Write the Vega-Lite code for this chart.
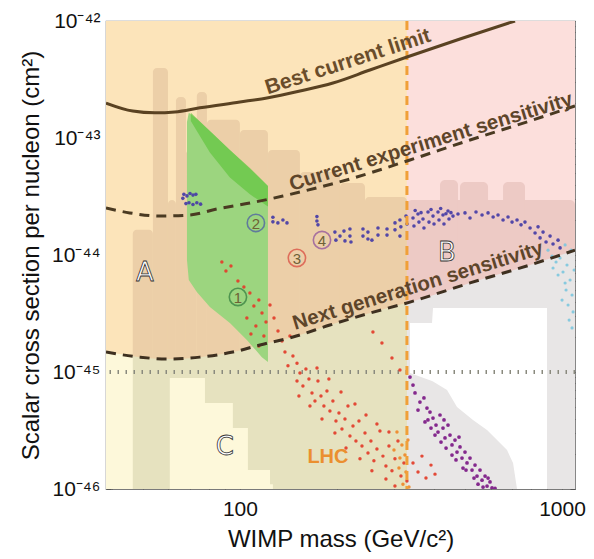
{
  "$schema": "https://vega.github.io/schema/vega-lite/v6.json",
  "width": 469,
  "height": 468,
  "autosize": {"type": "none"},
  "padding": {"left": 106, "top": 21, "right": 19, "bottom": 70},
  "config": {
    "view": {"stroke": "#7a7a7a", "strokeWidth": 1.2},
    "axis": {"domain": false, "grid": false, "tickColor": "#555555", "tickSize": -5, "labelFont": "Liberation Sans", "titleFont": "Liberation Sans", "labelFontSize": 21, "titleFontSize": 24, "labelColor": "#111111", "titleColor": "#111111", "titleFontWeight": "normal", "labelOverlap": false, "labelFlush": false}
  },
  "resolve": {"axis": {"x": "independent", "y": "independent"}},
  "layer": [
  {
  "layer": [
    {
      "data": {"values": [{"x": 38.4, "x2": 330, "y": 1e-46, "y2": 1e-42}]},
      "mark": {"type": "rect", "color": "#FCE4BA"},
      "encoding": {
        "x": {"field": "x", "type": "quantitative", "scale": {"type": "log", "domain": [38.4, 1097], "nice": false},
          "axis": {"title": "WIMP mass (GeV/c²)", "values": [40, 50, 60, 70, 80, 90, 100, 200, 300, 400, 500, 600, 700, 800, 900, 1000], "labelExpr": "datum.value == 100 ? '100' : datum.value == 1000 ? '1000' : ''", "labelPadding": 14, "titlePadding": 8}},
        "x2": {"field": "x2"},
        "y": {"field": "y", "type": "quantitative", "scale": {"type": "log", "domain": [1e-46, 1e-42], "nice": false},
          "axis": {"title": "Scalar cross section per nucleon (cm²)", "values": [1e-46, 2e-46, 3e-46, 4e-46, 5e-46, 6e-46, 7e-46, 8e-46, 9e-46, 1e-45, 2e-45, 3e-45, 4e-45, 5e-45, 6e-45, 7e-45, 8e-45, 9e-45, 1e-44, 2e-44, 3e-44, 4e-44, 5e-44, 6e-44, 7e-44, 8e-44, 9e-44, 1e-43, 2e-43, 3e-43, 4e-43, 5e-43, 6e-43, 7e-43, 8e-43, 9e-43, 1e-42],
            "labelExpr": "abs(log(datum.value)/LN10 - round(log(datum.value)/LN10)) > 0.01 ? '' : round(log(datum.value)/LN10) == -42 ? '10⁻⁴²' : round(log(datum.value)/LN10) == -43 ? '10⁻⁴³' : round(log(datum.value)/LN10) == -44 ? '10⁻⁴⁴' : round(log(datum.value)/LN10) == -45 ? '10⁻⁴⁵' : '10⁻⁴⁶'", "labelPadding": 11, "titlePadding": 8}},
        "y2": {"field": "y2"}
      }
    },
    {
      "data": {"values": [{"x": 330, "x2": 1097, "y": 1e-46, "y2": 1e-42}]},
      "mark": {"type": "rect", "color": "#FCDFDC"},
      "encoding": {
        "x": {"field": "x", "type": "quantitative", "scale": {"type": "log", "domain": [38.4, 1097], "nice": false}},
        "x2": {"field": "x2"},
        "y": {"field": "y", "type": "quantitative", "scale": {"type": "log", "domain": [1e-46, 1e-42], "nice": false}},
        "y2": {"field": "y2"}
      }
    },
    {
      "data": {"values": [
        {"x": 46.5, "x2": 53.7, "y": 1.64e-44, "y2": 1e-46},
        {"x": 53.7, "x2": 59.8, "y": 3.97e-43, "y2": 1e-46},
        {"x": 59.8, "x2": 63.3, "y": 2.95e-44, "y2": 1e-46},
        {"x": 63.3, "x2": 68.0, "y": 2.24e-43, "y2": 1e-46},
        {"x": 68.0, "x2": 73.5, "y": 7.89e-44, "y2": 1e-46},
        {"x": 73.5, "x2": 79.0, "y": 2.47e-43, "y2": 1e-46},
        {"x": 79.0, "x2": 100, "y": 1.43e-43, "y2": 1e-46},
        {"x": 100, "x2": 122.2, "y": 1.17e-43, "y2": 1e-46},
        {"x": 122.2, "x2": 153.6, "y": 7.89e-44, "y2": 1e-46},
        {"x": 153.6, "x2": 204.5, "y": 5.12e-44, "y2": 1e-46},
        {"x": 204.5, "x2": 244.5, "y": 4.13e-44, "y2": 1e-46},
        {"x": 244.5, "x2": 330, "y": 3.13e-44, "y2": 1e-46}
      ]},
      "mark": {"type": "rect", "color": "#ECCFA8", "cornerRadiusTopLeft": 4, "cornerRadiusTopRight": 4},
      "encoding": {
        "x": {"field": "x", "type": "quantitative", "scale": {"type": "log", "domain": [38.4, 1097], "nice": false}},
        "x2": {"field": "x2"},
        "y": {"field": "y", "type": "quantitative", "scale": {"type": "log", "domain": [1e-46, 1e-42], "nice": false}},
        "y2": {"field": "y2"}
      }
    },
    {
      "data": {"values": [
        {"x": 330, "x2": 1097, "y": 2.95e-44, "y2": 1e-46},
        {"x": 418, "x2": 475.3, "y": 4.38e-44, "y2": 1e-46},
        {"x": 482.2, "x2": 589.2, "y": 4.21e-44, "y2": 1e-46},
        {"x": 655.9, "x2": 767.2, "y": 4.21e-44, "y2": 1e-46}
      ]},
      "mark": {"type": "rect", "color": "#EDCAC5", "cornerRadiusTopLeft": 5, "cornerRadiusTopRight": 5},
      "encoding": {
        "x": {"field": "x", "type": "quantitative", "scale": {"type": "log", "domain": [38.4, 1097], "nice": false}},
        "x2": {"field": "x2"},
        "y": {"field": "y", "type": "quantitative", "scale": {"type": "log", "domain": [1e-46, 1e-42], "nice": false}},
        "y2": {"field": "y2"}
      }
    },
    {
      "data": {"values": [
        {"x": 38.4, "y": 1.48e-45, "y2": 1e-46}, {"x": 48.9, "y": 1.34e-45, "y2": 1e-46}, {"x": 59.3, "y": 1.29e-45, "y2": 1e-46},
        {"x": 75.1, "y": 1.34e-45, "y2": 1e-46}, {"x": 95.1, "y": 1.48e-45, "y2": 1e-46}, {"x": 115.4, "y": 1.7e-45, "y2": 1e-46},
        {"x": 146.1, "y": 1.99e-45, "y2": 1e-46}, {"x": 190.3, "y": 2.52e-45, "y2": 1e-46}, {"x": 253.3, "y": 3.19e-45, "y2": 1e-46},
        {"x": 330, "y": 3.9e-45, "y2": 1e-46}
      ]},
      "mark": {"type": "area", "color": "#E6E2BF", "interpolate": "monotone"},
      "encoding": {
        "x": {"field": "x", "type": "quantitative", "scale": {"type": "log", "domain": [38.4, 1097], "nice": false}},
        "y": {"field": "y", "type": "quantitative", "scale": {"type": "log", "domain": [1e-46, 1e-42], "nice": false}},
        "y2": {"field": "y2"}
      }
    },
    {
      "data": {"values": [
        {"x": 330, "y": 3.9e-45, "y2": 1e-46}, {"x": 337.3, "y": 3.96e-45, "y2": 1e-46}, {"x": 518, "y": 5.77e-45, "y2": 1e-46},
        {"x": 795.6, "y": 8.22e-45, "y2": 1e-46}, {"x": 1097, "y": 1.1e-44, "y2": 1e-46}
      ]},
      "mark": {"type": "area", "color": "#E8E6E6", "interpolate": "monotone"},
      "encoding": {
        "x": {"field": "x", "type": "quantitative", "scale": {"type": "log", "domain": [38.4, 1097], "nice": false}},
        "y": {"field": "y", "type": "quantitative", "scale": {"type": "log", "domain": [1e-46, 1e-42], "nice": false}},
        "y2": {"field": "y2"}
      }
    },
    {
      "data": {"values": [{"x": 38.4, "y": 1.48e-45, "y2": 1e-46}, {"x": 46.5, "y": 1.37e-45, "y2": 1e-46}]},
      "mark": {"type": "area", "color": "#FDF8DA"},
      "encoding": {
        "x": {"field": "x", "type": "quantitative", "scale": {"type": "log", "domain": [38.4, 1097], "nice": false}},
        "y": {"field": "y", "type": "quantitative", "scale": {"type": "log", "domain": [1e-46, 1e-42], "nice": false}},
        "y2": {"field": "y2"}
      }
    },
    {
      "data": {"values": [
        {"x": 60.6, "y": 8.89e-46, "y2": 1e-46}, {"x": 77.9, "y": 5.43e-46, "y2": 1e-46}, {"x": 95.1, "y": 3.32e-46, "y2": 1e-46},
        {"x": 105.9, "y": 1.45e-46, "y2": 1e-46}, {"x": 124.0, "y": 1.1e-46, "y2": 1e-46}, {"x": 126.6, "y": 1.1e-46, "y2": 1e-46}
      ]},
      "mark": {"type": "area", "color": "#FDF8DA", "interpolate": "step-after"},
      "encoding": {
        "x": {"field": "x", "type": "quantitative", "scale": {"type": "log", "domain": [38.4, 1097], "nice": false}},
        "y": {"field": "y", "type": "quantitative", "scale": {"type": "log", "domain": [1e-46, 1e-42], "nice": false}},
        "y2": {"field": "y2"}
      }
    },
    {
      "data": {"values": [
        {"x": 337.3, "y": 2.62e-45, "y2": 9.81e-46}, {"x": 394.8, "y": 2.62e-45, "y2": 8.38e-46}, {"x": 397.6, "y": 3.52e-45, "y2": 8.3e-46},
        {"x": 439.5, "y": 3.52e-45, "y2": 7.02e-46}, {"x": 472.0, "y": 3.52e-45, "y2": 5.02e-46}, {"x": 529.1, "y": 3.52e-45, "y2": 3.89e-46},
        {"x": 584.9, "y": 3.52e-45, "y2": 3.19e-46}, {"x": 628.4, "y": 3.52e-45, "y2": 2.62e-46}, {"x": 674.9, "y": 3.52e-45, "y2": 2.15e-46},
        {"x": 704.5, "y": 3.52e-45, "y2": 1.67e-46}, {"x": 724.9, "y": 3.52e-45, "y2": 1e-46}, {"x": 898.2, "y": 3.52e-45, "y2": 1e-46}
      ]},
      "mark": {"type": "area", "color": "#FFFFFF"},
      "encoding": {
        "x": {"field": "x", "type": "quantitative", "scale": {"type": "log", "domain": [38.4, 1097], "nice": false}},
        "y": {"field": "y", "type": "quantitative", "scale": {"type": "log", "domain": [1e-46, 1e-42], "nice": false}},
        "y2": {"field": "y2"}
      }
    },
    {
      "data": {"values": [{"y": 1e-45}]},
      "mark": {"type": "rule", "color": "#8A8A7E", "strokeWidth": 4, "strokeDash": [1.5, 6.5]},
      "encoding": {
        "y": {"field": "y", "type": "quantitative", "scale": {"type": "log", "domain": [1e-46, 1e-42], "nice": false}}
      }
    },
    {
      "data": {"values": [
        {"x": 68.5, "y": 1.37e-43, "y2": 9.06e-45}, {"x": 69.4, "y": 1.64e-43, "y2": 6.11e-45}, {"x": 73.5, "y": 1.45e-43, "y2": 4.83e-45},
        {"x": 80.7, "y": 1.15e-43, "y2": 3.59e-45}, {"x": 93.1, "y": 7.89e-44, "y2": 2.62e-45}, {"x": 105.1, "y": 5.76e-44, "y2": 1.88e-45},
        {"x": 117.0, "y": 4.37e-44, "y2": 1.34e-45}, {"x": 122.2, "y": 3.89e-44, "y2": 1.22e-45}
      ]},
      "mark": {"type": "area", "color": "#9CD57F", "clip": true},
      "encoding": {
        "x": {"field": "x", "type": "quantitative", "scale": {"type": "log", "domain": [38.4, 1097], "nice": false}},
        "y": {"field": "y", "type": "quantitative", "scale": {"type": "log", "domain": [1e-46, 1e-42], "nice": false}},
        "y2": {"field": "y2"}
      }
    },
    {
      "data": {"values": [
        {"x": 70.4, "y": 1.64e-43, "y2": 1.4e-43}, {"x": 80.7, "y": 1.15e-43, "y2": 7.5e-44}, {"x": 93.1, "y": 7.89e-44, "y2": 4.6e-44},
        {"x": 107.4, "y": 5.54e-44, "y2": 3.3e-44}, {"x": 122.2, "y": 3.89e-44, "y2": 2.6e-44}
      ]},
      "mark": {"type": "area", "color": "#62C43E", "opacity": 0.7, "clip": true},
      "encoding": {
        "x": {"field": "x", "type": "quantitative", "scale": {"type": "log", "domain": [38.4, 1097], "nice": false}},
        "y": {"field": "y", "type": "quantitative", "scale": {"type": "log", "domain": [1e-46, 1e-42], "nice": false}},
        "y2": {"field": "y2"}
      }
    },
    {
      "data": {"values": [
        {"x": 87.9, "y": 8.71e-45}, {"x": 90.5, "y": 7.3e-45}, {"x": 93.8, "y": 8.05e-45}, {"x": 98.6, "y": 6.0e-45}, {"x": 102.9, "y": 5.33e-45},
        {"x": 107.4, "y": 4.73e-45}, {"x": 110.5, "y": 3.67e-45}, {"x": 114.5, "y": 4.13e-45}, {"x": 105.1, "y": 2.89e-45}, {"x": 117.1, "y": 3.19e-45},
        {"x": 112.1, "y": 2.47e-45}, {"x": 118.7, "y": 2.03e-45}, {"x": 114.5, "y": 1.67e-45}, {"x": 108.2, "y": 2.11e-45}, {"x": 120.5, "y": 2.68e-45},
        {"x": 124.0, "y": 3.74e-45}, {"x": 127.6, "y": 2.89e-45}, {"x": 131.3, "y": 2.24e-45}, {"x": 135.1, "y": 1.84e-45}, {"x": 138.0, "y": 1.48e-45},
        {"x": 143.0, "y": 2.03e-45}, {"x": 146.1, "y": 1.37e-45}, {"x": 150.4, "y": 1.19e-45}, {"x": 153.6, "y": 9.81e-46}, {"x": 156.9, "y": 7.59e-46},
        {"x": 160.3, "y": 1.06e-45}, {"x": 163.8, "y": 8.71e-46}, {"x": 167.4, "y": 6.62e-46}, {"x": 171.0, "y": 5.65e-46}, {"x": 174.7, "y": 8.38e-46},
        {"x": 178.5, "y": 6.24e-46}, {"x": 182.3, "y": 5.12e-46}, {"x": 186.3, "y": 6.88e-46}, {"x": 190.3, "y": 4.64e-46}, {"x": 194.4, "y": 5.65e-46},
        {"x": 198.7, "y": 3.81e-46}, {"x": 203.0, "y": 4.46e-46}, {"x": 207.4, "y": 3.26e-46}, {"x": 211.9, "y": 3.97e-46}, {"x": 216.5, "y": 5.12e-46},
        {"x": 219.6, "y": 2.84e-46}, {"x": 224.4, "y": 3.46e-46}, {"x": 229.2, "y": 2.57e-46}, {"x": 234.2, "y": 3.81e-46}, {"x": 239.3, "y": 2.33e-46},
        {"x": 244.5, "y": 3.01e-46}, {"x": 249.8, "y": 2.03e-46}, {"x": 255.1, "y": 2.57e-46}, {"x": 260.6, "y": 1.74e-46}, {"x": 266.3, "y": 2.2e-46},
        {"x": 272.1, "y": 3.13e-46}, {"x": 278.0, "y": 1.91e-46}, {"x": 284.0, "y": 1.57e-46}, {"x": 290.2, "y": 2.33e-46}, {"x": 296.5, "y": 1.43e-46},
        {"x": 302.9, "y": 1.81e-46}, {"x": 309.5, "y": 2.57e-46}, {"x": 316.2, "y": 1.29e-46}, {"x": 323.0, "y": 1.67e-46}, {"x": 330.0, "y": 1.17e-46},
        {"x": 284.0, "y": 1.22e-46}, {"x": 302.9, "y": 1.06e-46}, {"x": 256.9, "y": 1.43e-46}, {"x": 235.9, "y": 1.81e-46}, {"x": 213.5, "y": 2.24e-46},
        {"x": 197.2, "y": 3.01e-46}, {"x": 179.8, "y": 3.97e-46}, {"x": 165.0, "y": 5.12e-46}, {"x": 152.5, "y": 6.24e-46}, {"x": 150.4, "y": 8.38e-46},
        {"x": 141.0, "y": 1.13e-45}, {"x": 258.8, "y": 2.2e-45}, {"x": 276.0, "y": 1.77e-45}, {"x": 296.5, "y": 1.32e-45}, {"x": 313.9, "y": 1.04e-45},
        {"x": 344.6, "y": 1.67e-46}, {"x": 357.2, "y": 1.4e-46}, {"x": 367.4, "y": 1.91e-46}, {"x": 378.1, "y": 1.24e-46}, {"x": 391.9, "y": 1.6e-46},
        {"x": 403.3, "y": 1.34e-46}, {"x": 173.5, "y": 1.08e-45}, {"x": 188.9, "y": 8.71e-46}, {"x": 206.0, "y": 6.75e-46}, {"x": 227.6, "y": 5.33e-46},
        {"x": 246.3, "y": 4.29e-46}, {"x": 266.3, "y": 3.59e-46}, {"x": 290.2, "y": 3.07e-46}
      ]},
      "mark": {"type": "circle", "color": "#E3402D", "size": 12, "opacity": 0.95, "clip": true},
      "encoding": {
        "x": {"field": "x", "type": "quantitative", "scale": {"type": "log", "domain": [38.4, 1097], "nice": false}},
        "y": {"field": "y", "type": "quantitative", "scale": {"type": "log", "domain": [1e-46, 1e-42], "nice": false}}
      }
    },
    {
      "data": {"values": [
        {"x": 307.3, "y": 3.07e-46}, {"x": 318.4, "y": 2.38e-46}, {"x": 325.3, "y": 1.95e-46}, {"x": 311.7, "y": 1.51e-46}, {"x": 327.7, "y": 1.4e-46},
        {"x": 320.7, "y": 1.1e-46}, {"x": 332.4, "y": 2.62e-46}, {"x": 300.8, "y": 2.15e-46}, {"x": 334.8, "y": 1.04e-46}, {"x": 313.9, "y": 1.84e-46}
      ]},
      "mark": {"type": "circle", "color": "#EE8A2C", "size": 12, "opacity": 0.95, "clip": true},
      "encoding": {
        "x": {"field": "x", "type": "quantitative", "scale": {"type": "log", "domain": [38.4, 1097], "nice": false}},
        "y": {"field": "y", "type": "quantitative", "scale": {"type": "log", "domain": [1e-46, 1e-42], "nice": false}}
      }
    },
    {
      "data": {"values": [
        {"x": 337.3, "y": 9.06e-46}, {"x": 344.6, "y": 7.74e-46}, {"x": 349.6, "y": 6.62e-46}, {"x": 362.2, "y": 5.54e-46}, {"x": 372.7, "y": 6.0e-46},
        {"x": 380.8, "y": 4.92e-46}, {"x": 389.1, "y": 4.55e-46}, {"x": 383.5, "y": 3.89e-46}, {"x": 397.5, "y": 4.04e-46}, {"x": 406.2, "y": 3.52e-46},
        {"x": 418.0, "y": 4.29e-46}, {"x": 412.0, "y": 3.07e-46}, {"x": 427.1, "y": 3.32e-46}, {"x": 433.2, "y": 2.73e-46}, {"x": 442.6, "y": 3.52e-46},
        {"x": 448.9, "y": 2.89e-46}, {"x": 455.4, "y": 2.38e-46}, {"x": 465.2, "y": 2.62e-46}, {"x": 472.0, "y": 2.07e-46}, {"x": 482.2, "y": 2.29e-46},
        {"x": 489.1, "y": 1.84e-46}, {"x": 499.7, "y": 2.07e-46}, {"x": 507.0, "y": 1.67e-46}, {"x": 518.0, "y": 1.84e-46}, {"x": 525.5, "y": 1.45e-46},
        {"x": 536.9, "y": 1.6e-46}, {"x": 544.6, "y": 1.29e-46}, {"x": 556.4, "y": 1.45e-46}, {"x": 564.4, "y": 1.19e-46}, {"x": 576.7, "y": 1.29e-46},
        {"x": 585.0, "y": 1.06e-46}, {"x": 597.6, "y": 1.15e-46}, {"x": 606.2, "y": 1.02e-46}, {"x": 568.5, "y": 1.04e-46}, {"x": 533.0, "y": 1.24e-46},
        {"x": 503.4, "y": 1.45e-46}, {"x": 468.6, "y": 1.77e-46}, {"x": 436.4, "y": 2.24e-46}, {"x": 403.3, "y": 2.89e-46}, {"x": 375.4, "y": 3.74e-46},
        {"x": 357.2, "y": 4.73e-46}, {"x": 421.0, "y": 2.52e-46}, {"x": 455.4, "y": 1.95e-46}, {"x": 492.7, "y": 1.51e-46}, {"x": 548.5, "y": 1.1e-46},
        {"x": 589.2, "y": 1.24e-46}, {"x": 619.4, "y": 1.01e-46}, {"x": 391.9, "y": 3.32e-46}, {"x": 430.1, "y": 3.89e-46}, {"x": 478.8, "y": 2.78e-46}
      ]},
      "mark": {"type": "circle", "color": "#7E1F88", "size": 14, "opacity": 0.95, "clip": true},
      "encoding": {
        "x": {"field": "x", "type": "quantitative", "scale": {"type": "log", "domain": [38.4, 1097], "nice": false}},
        "y": {"field": "y", "type": "quantitative", "scale": {"type": "log", "domain": [1e-46, 1e-42], "nice": false}}
      }
    },
    {
      "data": {"values": [
        {"x": 904.7, "y": 1.1e-44}, {"x": 931, "y": 9.8e-45}, {"x": 958, "y": 8.71e-45}, {"x": 937.6, "y": 7.74e-45}, {"x": 986, "y": 9.43e-45},
        {"x": 1007, "y": 7.16e-45}, {"x": 1036, "y": 8.21e-45}, {"x": 1059, "y": 6.11e-45}, {"x": 1029, "y": 5.02e-45}, {"x": 1074, "y": 4.55e-45},
        {"x": 1044, "y": 3.74e-45}, {"x": 1082, "y": 3.26e-45}, {"x": 1052, "y": 2.78e-45}, {"x": 1074, "y": 2.38e-45}, {"x": 1022, "y": 5.76e-45},
        {"x": 972, "y": 6.75e-45}, {"x": 1000, "y": 4.12e-45}, {"x": 1090, "y": 7.44e-45}, {"x": 1067, "y": 1.1e-44}, {"x": 1022, "y": 1.22e-44}
      ]},
      "mark": {"type": "circle", "color": "#7CC6DE", "size": 10, "opacity": 0.9, "clip": true},
      "encoding": {
        "x": {"field": "x", "type": "quantitative", "scale": {"type": "log", "domain": [38.4, 1097], "nice": false}},
        "y": {"field": "y", "type": "quantitative", "scale": {"type": "log", "domain": [1e-46, 1e-42], "nice": false}}
      }
    },
    {
      "data": {"values": [
        {"x": 66.5, "y": 3.05e-44}, {"x": 67.0, "y": 3.3e-44}, {"x": 68.5, "y": 3.2e-44}, {"x": 70.0, "y": 3.35e-44}, {"x": 71.5, "y": 3.25e-44},
        {"x": 73.0, "y": 3.3e-44}, {"x": 68.0, "y": 2.75e-44}, {"x": 69.5, "y": 2.8e-44}, {"x": 71.5, "y": 2.7e-44}, {"x": 73.5, "y": 2.8e-44},
        {"x": 75.5, "y": 2.72e-44}, {"x": 126.6, "y": 1.92e-44}, {"x": 126.6, "y": 2.1e-44}, {"x": 131.2, "y": 1.88e-44}, {"x": 136.0, "y": 1.99e-44},
        {"x": 140.0, "y": 1.88e-44}, {"x": 173.4, "y": 2.13e-44}, {"x": 173.4, "y": 1.95e-44}, {"x": 174.7, "y": 1.81e-44},
        {"x": 197.2, "y": 1.57e-44}, {"x": 198.6, "y": 1.34e-44}, {"x": 204.5, "y": 1.45e-44}, {"x": 210.4, "y": 1.6e-44}, {"x": 211.9, "y": 1.32e-44},
        {"x": 219.6, "y": 1.67e-44}, {"x": 219.6, "y": 1.45e-44}, {"x": 221.2, "y": 1.29e-44}, {"x": 241.0, "y": 1.67e-44}, {"x": 241.0, "y": 1.45e-44},
        {"x": 249.7, "y": 1.57e-44}, {"x": 249.7, "y": 1.37e-44}, {"x": 256.9, "y": 1.34e-44}, {"x": 268.3, "y": 1.7e-44}, {"x": 268.3, "y": 1.48e-44},
        {"x": 286.2, "y": 1.67e-44}, {"x": 286.2, "y": 1.48e-44}, {"x": 303.0, "y": 1.88e-44}, {"x": 303.0, "y": 1.64e-44}, {"x": 313.9, "y": 1.99e-44},
        {"x": 316.0, "y": 1.74e-44}, {"x": 313.9, "y": 1.45e-44}, {"x": 327.8, "y": 2.15e-44}, {"x": 330.1, "y": 1.84e-44}, {"x": 344.6, "y": 2.07e-44},
        {"x": 347.0, "y": 1.77e-44}, {"x": 357.1, "y": 2.24e-44}, {"x": 359.6, "y": 1.91e-44}, {"x": 370.1, "y": 2.03e-44}, {"x": 372.7, "y": 1.7e-44},
        {"x": 383.6, "y": 2.33e-44}, {"x": 386.3, "y": 1.91e-44}, {"x": 397.6, "y": 2.15e-44}, {"x": 400.5, "y": 1.84e-44}, {"x": 412.0, "y": 2.33e-44},
        {"x": 415.0, "y": 1.99e-44}, {"x": 427.0, "y": 2.2e-44}, {"x": 430.0, "y": 1.84e-44}, {"x": 442.6, "y": 2.38e-44}, {"x": 445.8, "y": 2.03e-44},
        {"x": 458.6, "y": 2.15e-44}, {"x": 475.3, "y": 2.24e-44}, {"x": 499.7, "y": 2.29e-44}, {"x": 518.0, "y": 2.07e-44}, {"x": 540.7, "y": 2.33e-44},
        {"x": 564.5, "y": 2.2e-44}, {"x": 589.2, "y": 2.29e-44}, {"x": 611.0, "y": 2.11e-44}, {"x": 632.8, "y": 2.2e-44}, {"x": 655.9, "y": 1.99e-44},
        {"x": 679.7, "y": 2.11e-44}, {"x": 699.5, "y": 1.91e-44}, {"x": 724.9, "y": 1.99e-44}, {"x": 746.0, "y": 1.81e-44}, {"x": 767.2, "y": 1.91e-44},
        {"x": 795.6, "y": 1.7e-44}, {"x": 824.6, "y": 1.54e-44}, {"x": 842.4, "y": 1.74e-44}, {"x": 854.6, "y": 1.4e-44}, {"x": 873.0, "y": 1.57e-44},
        {"x": 891.9, "y": 1.29e-44}, {"x": 918.0, "y": 1.45e-44}, {"x": 937.6, "y": 1.24e-44}, {"x": 971.9, "y": 1.34e-44}, {"x": 986.0, "y": 1.15e-44},
        {"x": 350, "y": 2.4e-44}, {"x": 365, "y": 2.3e-44}, {"x": 392, "y": 2.45e-44}, {"x": 420, "y": 2.5e-44}, {"x": 436, "y": 2.25e-44}, {"x": 452, "y": 2.3e-44}
      ]},
      "mark": {"type": "circle", "color": "#4A3FA6", "size": 13, "opacity": 0.95, "clip": true},
      "encoding": {
        "x": {"field": "x", "type": "quantitative", "scale": {"type": "log", "domain": [38.4, 1097], "nice": false}},
        "y": {"field": "y", "type": "quantitative", "scale": {"type": "log", "domain": [1e-46, 1e-42], "nice": false}}
      }
    },
    {
      "data": {"values": [{"x": 330}]},
      "mark": {"type": "rule", "color": "#F0A038", "strokeWidth": 3, "strokeDash": [9, 6]},
      "encoding": {
        "x": {"field": "x", "type": "quantitative", "scale": {"type": "log", "domain": [38.4, 1097], "nice": false}}
      }
    },
    {
      "data": {"values": [
        {"x": 38.4, "y": 1.99e-43}, {"x": 46.5, "y": 1.7e-43}, {"x": 54.5, "y": 1.64e-43}, {"x": 62.8, "y": 1.67e-43}, {"x": 75.1, "y": 1.81e-43},
        {"x": 100, "y": 2.03e-43}, {"x": 121.3, "y": 2.2e-43}, {"x": 153.6, "y": 2.52e-43}, {"x": 194.5, "y": 2.95e-43}, {"x": 253.3, "y": 3.81e-43},
        {"x": 330.1, "y": 4.92e-43}, {"x": 482.2, "y": 7.02e-43}, {"x": 714.5, "y": 1e-42}
      ]},
      "mark": {"type": "line", "color": "#5A4222", "strokeWidth": 3, "interpolate": "monotone", "clip": true},
      "encoding": {
        "x": {"field": "x", "type": "quantitative", "scale": {"type": "log", "domain": [38.4, 1097], "nice": false}},
        "y": {"field": "y", "type": "quantitative", "scale": {"type": "log", "domain": [1e-46, 1e-42], "nice": false}}
      }
    },
    {
      "data": {"values": [
        {"x": 38.4, "y": 2.52e-44}, {"x": 45.5, "y": 2.29e-44}, {"x": 56.4, "y": 2.15e-44}, {"x": 69.9, "y": 2.2e-44}, {"x": 84.8, "y": 2.47e-44},
        {"x": 107.4, "y": 2.78e-44}, {"x": 136.0, "y": 3.19e-44}, {"x": 177.2, "y": 3.81e-44}, {"x": 219.6, "y": 4.46e-44}, {"x": 337.3, "y": 6.49e-44},
        {"x": 518, "y": 9.61e-44}, {"x": 795.6, "y": 1.4e-43}, {"x": 1097, "y": 1.88e-43}
      ]},
      "mark": {"type": "line", "color": "#4A3A22", "strokeWidth": 3, "strokeDash": [10, 7], "interpolate": "monotone", "clip": true},
      "encoding": {
        "x": {"field": "x", "type": "quantitative", "scale": {"type": "log", "domain": [38.4, 1097], "nice": false}},
        "y": {"field": "y", "type": "quantitative", "scale": {"type": "log", "domain": [1e-46, 1e-42], "nice": false}}
      }
    },
    {
      "data": {"values": [
        {"x": 38.4, "y": 1.48e-45}, {"x": 48.9, "y": 1.34e-45}, {"x": 59.3, "y": 1.29e-45}, {"x": 75.1, "y": 1.34e-45}, {"x": 95.1, "y": 1.48e-45},
        {"x": 115.4, "y": 1.7e-45}, {"x": 146.1, "y": 1.99e-45}, {"x": 190.3, "y": 2.52e-45}, {"x": 253.3, "y": 3.19e-45}, {"x": 337.3, "y": 3.96e-45},
        {"x": 518, "y": 5.77e-45}, {"x": 795.6, "y": 8.22e-45}, {"x": 1097, "y": 1.1e-44}
      ]},
      "mark": {"type": "line", "color": "#3E3020", "strokeWidth": 3, "strokeDash": [10, 7], "interpolate": "monotone", "clip": true},
      "encoding": {
        "x": {"field": "x", "type": "quantitative", "scale": {"type": "log", "domain": [38.4, 1097], "nice": false}},
        "y": {"field": "y", "type": "quantitative", "scale": {"type": "log", "domain": [1e-46, 1e-42], "nice": false}}
      }
    },
    {
      "data": {"values": [
        {"x": 98.6, "y": 4.38e-45, "n": "1"}, {"x": 112.1, "y": 1.88e-44, "n": "2"}, {"x": 150.3, "y": 9.43e-45, "n": "3"}, {"x": 179.8, "y": 1.343e-44, "n": "4"}
      ]},
      "layer": [
        {
          "mark": {"type": "point", "shape": "circle", "filled": false, "size": 300, "strokeWidth": 1.6},
          "encoding": {
            "x": {"field": "x", "type": "quantitative", "scale": {"type": "log", "domain": [38.4, 1097], "nice": false}},
            "y": {"field": "y", "type": "quantitative", "scale": {"type": "log", "domain": [1e-46, 1e-42], "nice": false}},
            "color": {"field": "n", "type": "nominal", "scale": {"domain": ["1", "2", "3", "4"], "range": ["#2E7A3C", "#4856A8", "#D9443A", "#8B4A9C"]}, "legend": null}
          }
        },
        {
          "mark": {"type": "text", "font": "Liberation Sans", "fontSize": 15, "color": "#6E6136", "align": "center", "baseline": "middle", "dy": 1},
          "encoding": {
            "x": {"field": "x", "type": "quantitative", "scale": {"type": "log", "domain": [38.4, 1097], "nice": false}},
            "y": {"field": "y", "type": "quantitative", "scale": {"type": "log", "domain": [1e-46, 1e-42], "nice": false}},
            "text": {"field": "n"}
          }
        }
      ]
    },
    {
      "data": {"values": [{"x": 216.5, "y": 4.46e-43, "t": "Best current limit"}]},
      "mark": {"type": "text", "font": "Liberation Sans", "fontSize": 21, "fontWeight": "bold", "color": "#6A4D2B", "angle": 342, "align": "center", "baseline": "middle"},
      "encoding": {
        "x": {"field": "x", "type": "quantitative", "scale": {"type": "log", "domain": [38.4, 1097], "nice": false}},
        "y": {"field": "y", "type": "quantitative", "scale": {"type": "log", "domain": [1e-46, 1e-42], "nice": false}},
        "text": {"field": "t"}
      }
    },
    {
      "data": {"values": [{"x": 391.9, "y": 9.24e-44, "t": "Current experiment sensitivity"}, {"x": 357.2, "y": 5.43e-45, "t": "Next generation sensitivity"}]},
      "mark": {"type": "text", "font": "Liberation Sans", "fontSize": 20.5, "fontWeight": "bold", "color": "#5E452A", "angle": 343, "align": "center", "baseline": "middle"},
      "encoding": {
        "x": {"field": "x", "type": "quantitative", "scale": {"type": "log", "domain": [38.4, 1097], "nice": false}},
        "y": {"field": "y", "type": "quantitative", "scale": {"type": "log", "domain": [1e-46, 1e-42], "nice": false}},
        "text": {"field": "t"}
      }
    },
    {
      "data": {"values": [{"x": 187.6, "y": 1.88e-46, "t": "LHC"}]},
      "mark": {"type": "text", "font": "Liberation Sans", "fontSize": 20, "fontWeight": "bold", "color": "#EB8F2F", "align": "center", "baseline": "middle"},
      "encoding": {
        "x": {"field": "x", "type": "quantitative", "scale": {"type": "log", "domain": [38.4, 1097], "nice": false}},
        "y": {"field": "y", "type": "quantitative", "scale": {"type": "log", "domain": [1e-46, 1e-42], "nice": false}},
        "text": {"field": "t"}
      }
    },
    {
      "data": {"values": [{"x": 50.7, "y": 7.02e-45, "t": "A"}, {"x": 439.5, "y": 1.04e-44, "t": "B"}, {"x": 89.8, "y": 2.29e-46, "t": "C"}]},
      "mark": {"type": "text", "font": "DejaVu Sans", "fontSize": 26, "fill": "#FFFFFF", "stroke": "#333333", "strokeWidth": 0.8, "align": "center", "baseline": "middle"},
      "encoding": {
        "x": {"field": "x", "type": "quantitative", "scale": {"type": "log", "domain": [38.4, 1097], "nice": false}},
        "y": {"field": "y", "type": "quantitative", "scale": {"type": "log", "domain": [1e-46, 1e-42], "nice": false}},
        "text": {"field": "t"}
      }
    }
  ]
  },
  {
    "data": {"values": [{"x": 38.4, "x2": 1097, "y": 1e-46, "y2": 1e-42}]},
    "mark": {"type": "rect", "opacity": 0},
    "encoding": {
      "x": {"field": "x", "type": "quantitative", "scale": {"type": "log", "domain": [38.4, 1097], "nice": false},
        "axis": {"orient": "top", "title": null, "labels": false, "values": [40, 50, 60, 70, 80, 90, 100, 200, 300, 400, 500, 600, 700, 800, 900, 1000]}},
      "x2": {"field": "x2"},
      "y": {"field": "y", "type": "quantitative", "scale": {"type": "log", "domain": [1e-46, 1e-42], "nice": false},
        "axis": {"orient": "right", "title": null, "labels": false, "values": [1e-46, 2e-46, 3e-46, 4e-46, 5e-46, 6e-46, 7e-46, 8e-46, 9e-46, 1e-45, 2e-45, 3e-45, 4e-45, 5e-45, 6e-45, 7e-45, 8e-45, 9e-45, 1e-44, 2e-44, 3e-44, 4e-44, 5e-44, 6e-44, 7e-44, 8e-44, 9e-44, 1e-43, 2e-43, 3e-43, 4e-43, 5e-43, 6e-43, 7e-43, 8e-43, 9e-43, 1e-42]}},
      "y2": {"field": "y2"}
    }
  }
  ]
}
